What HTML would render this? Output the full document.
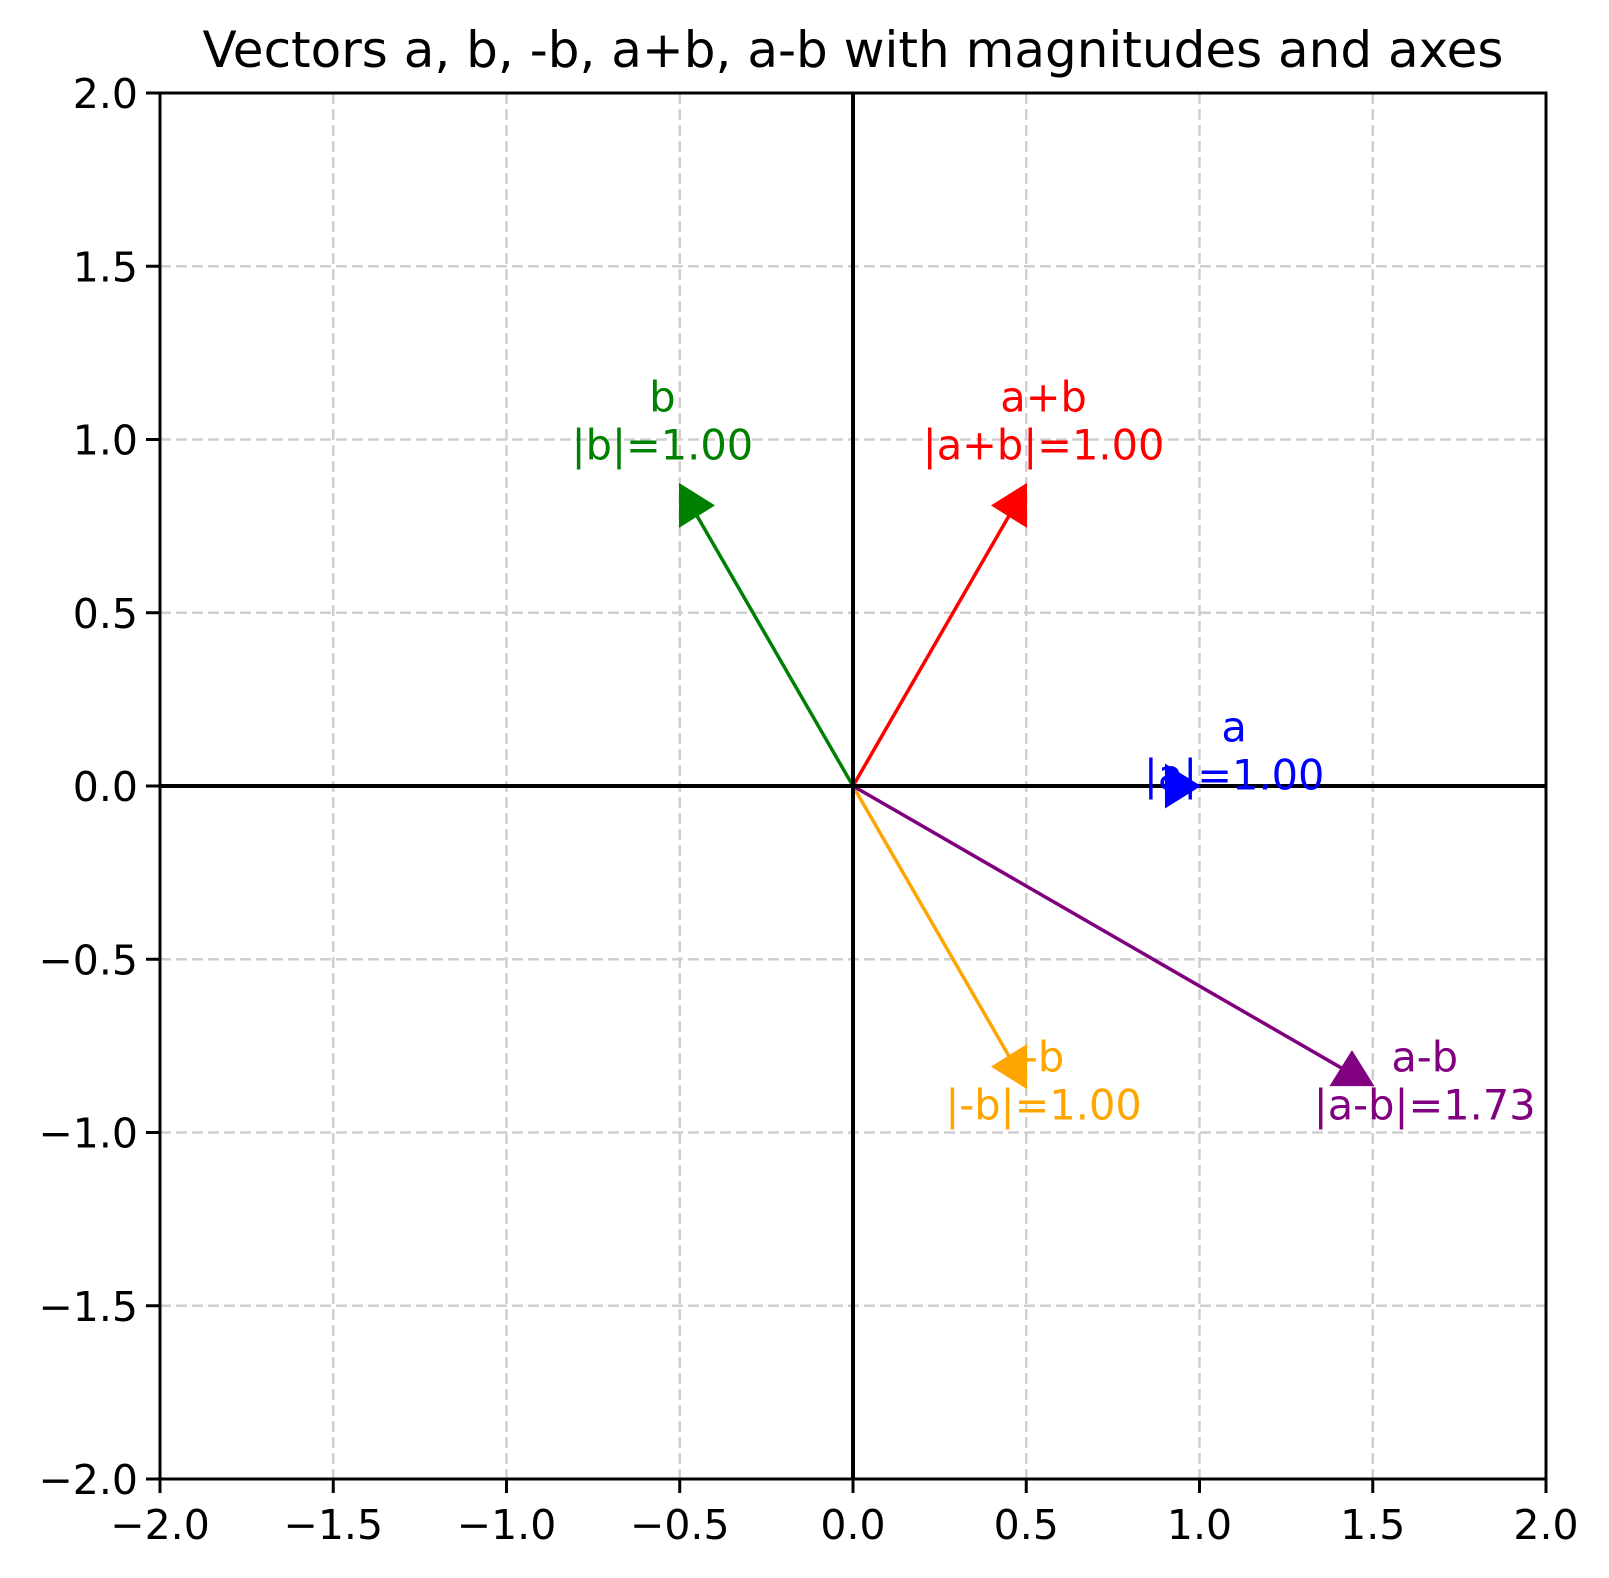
<!DOCTYPE html>
<html><head><meta charset="utf-8"><style>
html,body{margin:0;padding:0;background:#fff}
svg{display:block;font-family:"DejaVu Sans","Liberation Sans",sans-serif}
</style></head><body>
<svg id="chart" width="1609" height="1578" viewBox="0 0 1609 1578" xmlns="http://www.w3.org/2000/svg">
<text x="853" y="67" font-size="50" text-anchor="middle" fill="#000">Vectors a, b, -b, a+b, a-b with magnitudes and axes</text>
<g id="grid"></g>
<g id="shafts"></g>
<g id="axes0"></g>
<g id="vectors"></g>
<g id="labels"></g>
<rect x="160" y="93" width="1386" height="1386" fill="none" stroke="#000" stroke-width="3"/>
<g id="ticks"></g>
</svg>
<script>
const names = ['a','b','-b','a+b','a-b'];
const vx = [1, -0.5, 0.5, 0.5, 1.5];
const vy = [0, 0.866, -0.866, 0.866, -0.866];
const mags = ['1.00','1.00','1.00','1.00','1.73'];
const colors = ['#0000ff','#008000','#ffa500','#ff0000','#800080'];
const headDir = ['right','right','left','left','up'];
const xTicks = [-2,-1.5,-1,-0.5,0,0.5,1,1.5,2];
const yTicks = [-2,-1.5,-1,-0.5,0,0.5,1,1.5,2];
const xTickLabels = ['−2.0','−1.5','−1.0','−0.5','0.0','0.5','1.0','1.5','2.0'];
const yTickLabels = ['−2.0','−1.5','−1.0','−0.5','0.0','0.5','1.0','1.5','2.0'];

const L=160,R=1546,T=93,B=1479;
const X=v=>L+(v+2)/4*(R-L);
const Y=v=>B-(v+2)/4*(B-T);
const NS='http://www.w3.org/2000/svg';
function mk(tag,parent,attrs){const e=document.createElementNS(NS,tag);for(const k in attrs)e.setAttribute(k,attrs[k]);parent.appendChild(e);return e;}
const grid=document.getElementById('grid'),ticks=document.getElementById('ticks'),ax0=document.getElementById('axes0');
xTicks.forEach((t,i)=>{
  const g=mk('line',grid,{x1:X(t),x2:X(t),y1:T,y2:B,stroke:'#cfcfcf','stroke-width':2.5,'stroke-dasharray':'11 5'});
  
  
  const tk=mk('line',ticks,{x1:X(t),x2:X(t),y1:B,y2:B+14,stroke:'#000','stroke-width':3});
  
  
  const tl=mk('text',ticks,{x:X(t),y:1539,'font-size':41,'text-anchor':'middle',fill:'#000'});
  tl.textContent=xTickLabels[i];
  
  
});
yTicks.forEach((t,i)=>{
  const g=mk('line',grid,{x1:L,x2:R,y1:Y(t),y2:Y(t),stroke:'#cfcfcf','stroke-width':2.5,'stroke-dasharray':'11 5'});
  
  
  const tk=mk('line',ticks,{x1:L-14,x2:L,y1:Y(t),y2:Y(t),stroke:'#000','stroke-width':3});
  
  
  const tl=mk('text',ticks,{x:L-22,y:Y(t)+15,'font-size':41,'text-anchor':'end',fill:'#000'});
  tl.textContent=yTickLabels[i];
  
  
});
const h0=mk('line',ax0,{x1:L,x2:R,y1:Y(0),y2:Y(0),stroke:'#000','stroke-width':4});


const v0=mk('line',ax0,{x1:X(0),x2:X(0),y1:T,y2:B,stroke:'#000','stroke-width':4});



const sg=document.getElementById('shafts'),vg=document.getElementById('vectors'),lg=document.getElementById('labels');
names.forEach((n,i)=>{
  const f=headDir[i]==='up'?0.96:0.935;
  const cx=X(vx[i]*f),cy=Y(vy[i]*f);
  const ln=mk('line',sg,{x1:X(0),y1:Y(0),x2:cx,y2:cy,stroke:colors[i],'stroke-width':3.5});
  
  
  const Lh=36,W=45;let pts;
  if(headDir[i]==='right')pts=[[cx+Lh*2/3,cy],[cx-Lh/3,cy-W/2],[cx-Lh/3,cy+W/2]];
  else if(headDir[i]==='left')pts=[[cx-Lh*2/3,cy],[cx+Lh/3,cy-W/2],[cx+Lh/3,cy+W/2]];
  else pts=[[cx,cy-Lh*2/3],[cx-W/2,cy+Lh/3],[cx+W/2,cy+Lh/3]];
  const hd=mk('polygon',vg,{points:pts.map(p=>p.join(',')).join(' '),fill:colors[i]});
  
  
  const tx=X(vx[i]*1.1),ty=Y(vy[i]*1.1+0.1);
  const t=mk('text',lg,{x:tx,y:ty-24+14,'font-size':41.5,'text-anchor':'middle',fill:colors[i]});
  t.textContent=n;
  
  
  const t2=mk('text',lg,{x:tx,y:ty+24+14,'font-size':41.5,'text-anchor':'middle',fill:colors[i]});
  t2.textContent='|'+n+'|='+mags[i];
  
  
});
</script>
</body></html>
